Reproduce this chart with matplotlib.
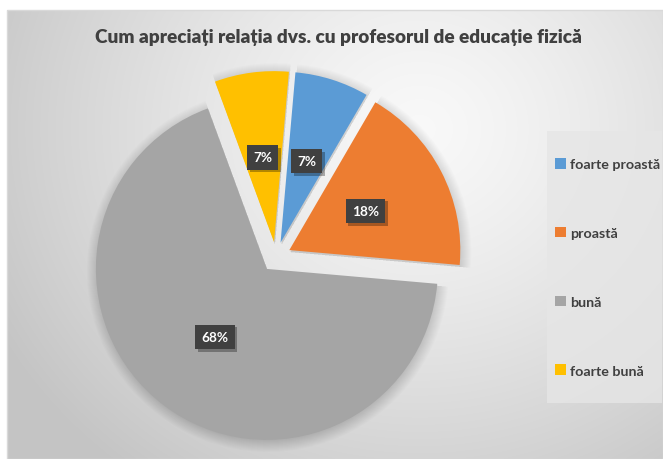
import numpy as np
import matplotlib.pyplot as plt
from matplotlib import patheffects as pe
from matplotlib.patches import Rectangle

plt.rcParams['font.family'] = ['Lato', 'DejaVu Sans']

# date
categorii = ['foarte proastă', 'proastă', 'bună', 'foarte bună']
procente = [7, 18, 68, 7]
culori = ['#5b9bd5', '#ed7d31', '#a5a5a5', '#ffc000']
titlu = 'Cum apreciați relația dvs. cu profesorul de educație fizică'

W, H = 663, 460
fig = plt.figure(figsize=(W / 100, H / 100), dpi=100)
fig.patch.set_facecolor('white')
ax = fig.add_axes([0, 0, 1, 1])

# fundal cu gradient radial (zona graficului)
x0, x1, y0, y1 = 7, 663, 0, 449
xx, yy = np.meshgrid(np.linspace(x0, x1, 400), np.linspace(y1, y0, 300))
d = np.hypot(xx - 420, (yy - 330) * 1.1) / 480
d = np.clip(d, 0, 1)
c_in, c_out = 0.975, 0.77
grad = c_in + (c_out - c_in) * d ** 1.3
ax.imshow(np.dstack([grad] * 3), extent=[x0, x1, y0, y1], zorder=0,
          aspect='auto', interpolation='bilinear')
ax.add_patch(Rectangle((x0, y0), x1 - x0, y1 - y0, fill=False,
                       edgecolor='#d9d9d9', lw=1, zorder=1))

centru = (276, 202)
raza = 171
expl = [15] * 4  # in pixeli (unitati de date)

# umbra difuza
for k in range(12):
    ax.pie(procente, radius=raza + 10 - k, center=(centru[0] + 1, centru[1] - 2),
           startangle=85, counterclock=False, explode=expl,
           colors=['black'] * 4, wedgeprops=dict(alpha=0.012, lw=0),
           frame=True)

wedges, _, pct = ax.pie(procente, radius=raza, center=centru,
                        startangle=85, counterclock=False, explode=expl,
                        colors=culori, autopct='%d%%', pctdistance=0.5,
                        wedgeprops=dict(lw=0), frame=True,
                        textprops=dict(color='white', fontsize=9.8,
                                       fontweight='bold'))
for t in pct:
    t.set_bbox(dict(boxstyle='square,pad=0.45', fc='#404040', ec='none'))
    t.get_bbox_patch().set_path_effects([
        pe.SimplePatchShadow(offset=(2, -2), shadow_rgbFace='black', alpha=0.3),
        pe.Normal()])

ax.set_xlim(0, W)
ax.set_ylim(0, H)
ax.set_aspect('auto')
ax.axis('off')

fig.text(338 / W, 1 - 38 / H, titlu, ha='center', va='center',
         fontsize=13.7, fontweight='heavy', color='#404040')

# legenda
ax.add_patch(Rectangle((547, H - 404), 115, 272, fc='#e6e6e6', ec='none',
                       alpha=0.8, zorder=2))
leg = fig.legend(wedges, categorii, loc='upper left',
                 bbox_to_anchor=(548 / W, 1 - 152 / H), frameon=False,
                 handlelength=0.75, handleheight=0.75, handletextpad=0.3,
                 labelspacing=3.95, borderpad=0,
                 prop=dict(size=10.3, weight='bold'))
for t in leg.get_texts():
    t.set_color('#404040')

fig.savefig('out.png', dpi=100)
